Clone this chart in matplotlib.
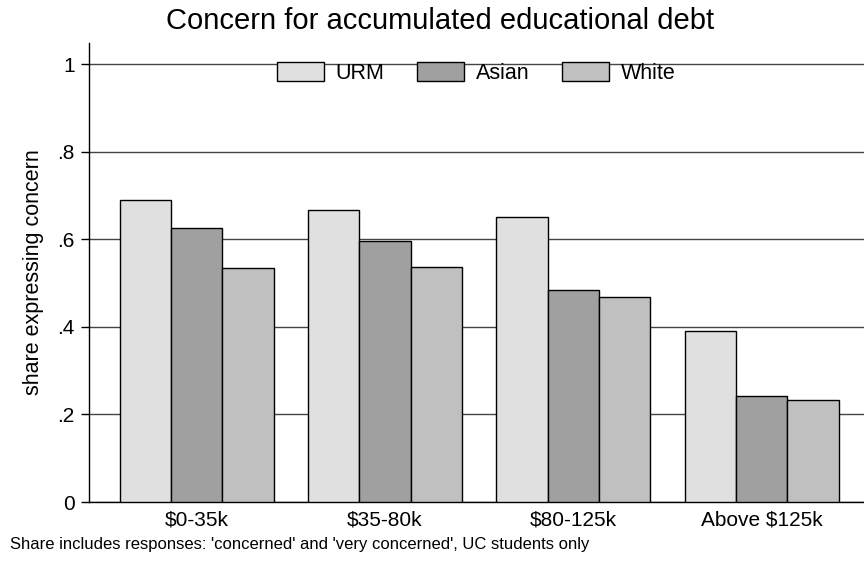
import numpy as np
import matplotlib
matplotlib.use("Agg")
import matplotlib.pyplot as plt

plt.rcParams['font.family'] = ['Liberation Sans', 'DejaVu Sans']

groups = ['$0-35k', '$35-80k', '$80-125k', 'Above $125k']
series = ['URM', 'Asian', 'White']
urm = [0.689, 0.667, 0.651, 0.390]
asian = [0.626, 0.597, 0.483, 0.243]
white = [0.535, 0.537, 0.468, 0.234]
colors = ['#e0e0e0', '#a0a0a0', '#c0c0c0']

fig = plt.figure(figsize=(8.64, 5.61), dpi=100)
ax = fig.add_axes([88.7/864, 1 - 502/561, 1 - 88.7/864, (502 - 43)/561])

x = np.arange(len(groups))
w = 0.2725
for i, (vals, lab) in enumerate(zip([urm, asian, white], series)):
    ax.bar(x + (i - 1) * w, vals, width=w, color=colors[i], edgecolor='black',
           linewidth=1.0, label=lab, zorder=3)

ax.set_xlim(-0.5735, 3.544)
ax.set_ylim(0, 1.048)
ax.set_yticks([0, 0.2, 0.4, 0.6, 0.8, 1.0])
ax.set_yticklabels(['0', '.2', '.4', '.6', '.8', '1'])
ax.set_xticks(x)
ax.set_xticklabels(groups)
ax.tick_params(axis='x', length=0, labelsize=15, pad=6)
ax.tick_params(axis='y', length=6, width=1, labelsize=15, pad=4)
ax.yaxis.grid(True, color='#444444', linewidth=1.0, zorder=0)
for s in ['top', 'right']:
    ax.spines[s].set_visible(False)
ax.spines['left'].set_linewidth(1.0)
ax.spines['bottom'].set_linewidth(1.0)
ax.set_ylabel('share expressing concern', fontsize=15.5, labelpad=10)

ax.legend(loc='upper center', bbox_to_anchor=(0.5, 1.0), ncol=3, frameon=False,
          fontsize=15.5, handlelength=2.2, handleheight=0.92, handletextpad=0.55,
          columnspacing=1.5)

fig.text(440/864, 1 - 21/561, 'Concern for accumulated educational debt',
         ha='center', va='center', fontsize=21)
fig.text(10/864, 1 - 544/561,
         "Share includes responses: 'concerned' and 'very concerned', UC students only",
         ha='left', va='center', fontsize=12)

fig.savefig('out.png', dpi=100)
